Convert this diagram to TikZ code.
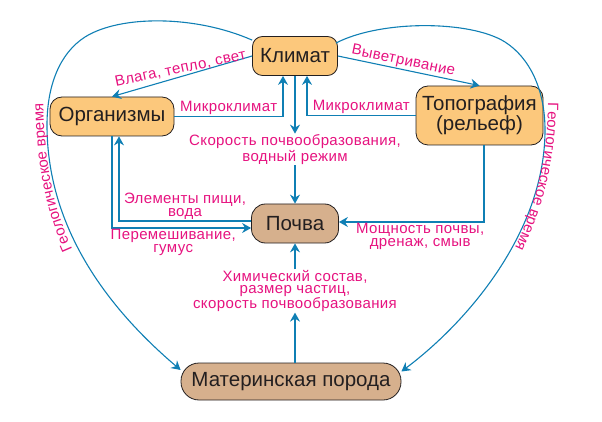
\documentclass[tikz,border=0pt]{standalone}
\usepackage{fontspec}
\setmainfont{Liberation Sans}
\newfontfamily\lblfamily[LetterSpace=2.5]{Liberation Sans}
\usetikzlibrary{arrows.meta,calc,decorations.text}
\definecolor{ink}{HTML}{231F20}
\definecolor{flow}{HTML}{0F7FB4}
\definecolor{lbl}{HTML}{E6127F}
\definecolor{apricot}{HTML}{FCC87C}
\definecolor{clay}{HTML}{D6B08D}
\newcommand\lblsize{\lblfamily\fontsize{15}{12.5}\selectfont}

\begin{document}
\begin{tikzpicture}[x=1pt,y=-1pt,
  box/.style={draw=ink,line width=0.8pt,rounded corners=10pt,text=ink,font=\fontsize{20.5}{19}\selectfont,inner sep=0pt,minimum height=39pt,align=center},
  warm/.style={box,fill=apricot},
  earth/.style={box,fill=clay},
  lbl/.style={text=lbl,font=\lblsize,align=center,inner sep=1pt},
  arr/.style={flow,line width=1.1pt,-{Stealth[length=9pt,width=10pt,inset=3pt]}}]
  \useasboundingbox (0,0) rectangle (602,422);
  % factors
  \node[warm,minimum width=85pt] (klimat) at (295,56) {Климат};
  \node[warm,minimum width=124pt,rounded corners=12pt] (org) at (112,116.5) {Организмы};
  \node[warm,minimum width=127pt,minimum height=59pt,rounded corners=12pt] (topo) at (479.5,115.5) {Топография\\(рельеф)};
  \node[earth,minimum width=87pt,rounded corners=14pt] (pochva) at (295,223.5) {Почва};
  \node[earth,minimum width=220pt,minimum height=37pt,rounded corners=18pt] (poroda) at (291,381.5) {Материнская порода};
  % middle labels
  \node[lbl] (skor) at (295,149.5) {Скорость почвообразования,\\водный режим};
  \node[lbl,font=\lblfamily\fontsize{15}{11.5}\selectfont] (him) at (295,291) {Химический состав,\\размер частиц,\\скорость почвообразования};
  % connectors
  \draw[arr] (klimat) -- (skor);
  \draw[arr] (skor) -- (pochva);
  \draw[arr] (poroda.north -| him) -- (him);
  \draw[arr] (him) -- (pochva);
  \draw[arr] (klimat.west) -- (org.north) node[lbl,midway,above,rotate=12] {Влага, тепло, свет};
  \draw[arr] (klimat.east) -- (topo.north) node[lbl,pos=0.45,sloped,above] {Выветривание};
  \draw[arr] (org.east) -| ([xshift=-12pt]klimat.south) node[lbl,pos=0.25,above] {Микроклимат};
  \draw[arr] (topo.west) -| ([xshift=12pt]klimat.south) node[lbl,pos=0.25,above] {Микроклимат};
  \draw[arr] ([yshift=2.5pt]pochva.west) -| ([xshift=7pt]org.south) node[lbl,pos=0.25,above] {Элементы пищи,\\вода};
  \draw[arr] (org.south) |- ([yshift=-4.5pt]pochva.west) node[lbl,pos=0.72,below] {Перемешивание,\\гумус};
  \draw[arr] ([xshift=4.5pt]topo.south) |- ([yshift=1.5pt]pochva.east) node[lbl,pos=0.72,below] {Мощность почвы,\\дренаж, смыв};
  % geological time
  \draw[arr] ([yshift=-4pt]klimat.north west) .. controls (195,15) and (120,15) .. (85,37) .. controls (60,53) and (47,85) .. (47,125) .. controls (47,230) and (110,310) .. ([yshift=11.5pt]poroda.west);
  \draw[arr] ([xshift=-2pt,yshift=-7pt]klimat.north east) .. controls (380,20) and (470,20) .. (505,42) .. controls (530,58) and (545,90) .. (545,130) .. controls (545,230) and (470,320) .. ([yshift=10pt]poroda.east);
  \path[decorate,decoration={text along path,text align=center,text color=lbl,text={|\lblsize|Геологическое время}}] (78,262) .. controls (58,220) and (44,180) .. (43,90);
  \path[decorate,decoration={text along path,text align=center,text color=lbl,text={|\lblsize|Геологическое время}}] (548,92) .. controls (549,165) and (532,215) .. (510,258);
\end{tikzpicture}
\end{document}
